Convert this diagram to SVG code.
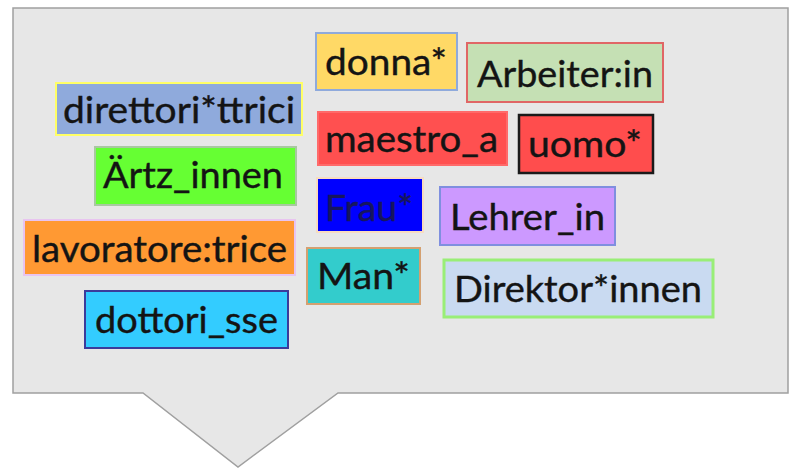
<svg xmlns="http://www.w3.org/2000/svg" width="791" height="468" viewBox="0 0 791 468">
<style>
.t{font-family:Lato,"Open Sans","Liberation Sans",sans-serif;font-size:37px;fill:#141414;stroke:#141414;stroke-width:0.4}
.b{stroke-width:2}
</style>
<rect width="791" height="468" fill="#ffffff"/>
<g id="callout">
<path d="M13,8 H788 V393 H338 L238,467 L143,393 H13 Z" fill="#e7e7e7" stroke="#a0a0a0" stroke-width="1.5"/>
</g>
<g id="connectors"></g>
<g id="n-donna"><rect class="b" x="316" y="33" width="141" height="57" fill="#ffd966" stroke="#8faadc"/><text class="t" x="325" y="75" textLength="122" lengthAdjust="spacingAndGlyphs">donna*</text></g>
<g id="n-arbeiter"><rect class="b" x="467" y="43" width="196" height="59" fill="#c5e0b4" stroke="#e06666"/><text class="t" x="477" y="87" textLength="176" lengthAdjust="spacingAndGlyphs">Arbeiter:in</text></g>
<g id="n-direttori"><rect class="b" x="56" y="83" width="246" height="52" fill="#8faadc" stroke="#ffff66"/><text class="t" x="63" y="123" textLength="232" lengthAdjust="spacingAndGlyphs">direttori*ttrici</text></g>
<g id="n-maestro"><rect class="b" x="318" y="112" width="189" height="53" fill="#ff5050" stroke="#ff6a6a"/><text class="t" x="325" y="152" textLength="173" lengthAdjust="spacingAndGlyphs">maestro_a</text></g>
<g id="n-uomo"><rect x="519" y="115" width="134" height="58" fill="#ff4d4d" stroke="#1a1a1a" stroke-width="2.5"/><text class="t" x="528" y="157" textLength="114" lengthAdjust="spacingAndGlyphs">uomo*</text></g>
<g id="n-artz"><rect class="b" x="95" y="147" width="201" height="58" fill="#66ff33" stroke="#a8c8a0"/><text class="t" x="103" y="188" textLength="180" lengthAdjust="spacingAndGlyphs">Ärtz_innen</text></g>
<g id="n-frau"><rect class="b" x="317" y="178" width="106" height="54" fill="#0000ff" stroke="#f8dcc0"/><text class="t" x="325" y="221" textLength="88" lengthAdjust="spacingAndGlyphs" style="fill:#16165e;stroke:#16165e">Frau*</text></g>
<g id="n-lehrer"><rect class="b" x="440" y="187" width="175" height="58" fill="#cc99ff" stroke="#7f8fdf"/><text class="t" x="450" y="230" textLength="155" lengthAdjust="spacingAndGlyphs">Lehrer_in</text></g>
<g id="n-lavoratore"><rect class="b" x="24" y="220" width="271" height="55" fill="#ff9933" stroke="#e8c4f0"/><text class="t" x="32" y="262" textLength="255" lengthAdjust="spacingAndGlyphs">lavoratore:trice</text></g>
<g id="n-man"><rect class="b" x="307" y="248" width="113" height="56" fill="#33cccc" stroke="#d4a070"/><text class="t" x="317" y="289" textLength="93" lengthAdjust="spacingAndGlyphs">Man*</text></g>
<g id="n-direktor"><rect x="444" y="260" width="269" height="57" fill="#c9daf1" stroke="#99ee77" stroke-width="3"/><text class="t" x="454" y="302" textLength="248" lengthAdjust="spacingAndGlyphs">Direktor*innen</text></g>
<g id="n-dottori"><rect class="b" x="85" y="291" width="203" height="57" fill="#33ccff" stroke="#3b3b9b"/><text class="t" x="95" y="333" textLength="183" lengthAdjust="spacingAndGlyphs">dottori_sse</text></g>
</svg>
